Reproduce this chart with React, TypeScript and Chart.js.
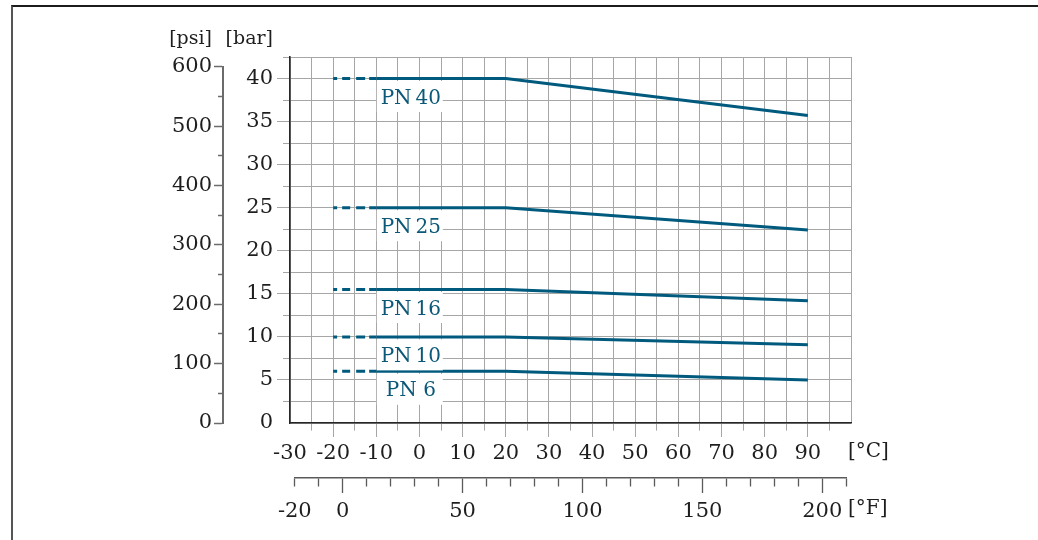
import React, { useEffect, useRef } from 'react';
import { Chart, registerables } from 'chart.js';

Chart.register(...registerables);

// Pressure/temperature curves for the flange classes (bar over °C)
const temperaturesC = [-20, -10, 20, 90];
const pn40 = [40, 40, 40, 35.7];
const pn25 = [25, 25, 25, 22.4];
const pn16 = [15.5, 15.5, 15.5, 14.2];
const pn10 = [10, 10, 10, 9.1];
const pn6 = [6, 6, 6, 5.0];
const seriesNames = ['PN\u200940', 'PN\u200925', 'PN\u200916', 'PN\u200910', 'PN 6'];

// Labelled tick values of each axis
const celsiusTicks = [-30, -20, -10, 0, 10, 20, 30, 40, 50, 60, 70, 80, 90];
const barTicks = [0, 5, 10, 15, 20, 25, 30, 35, 40];
const psiTicks = [0, 100, 200, 300, 400, 500, 600];
const fahrenheitTicks = [-20, 0, 50, 100, 150, 200];

const PSI_PER_BAR = 14.5038;
const FONT = "'DejaVu Serif', serif";
const LINE = '#005a7e';
const LABEL = '#0b5878';
const TEXT = '#1e1e1e';
const GRID = '#a6a6a6';
const CLEAR = 'rgba(0,0,0,0)';

const series = [pn40, pn25, pn16, pn10, pn6];
const labelAtC = -2;

const tickFont = { family: FONT, size: 21 };

const secondaryAxes = {
  id: 'secondaryAxes',
  afterLayout(chart: any) {
    const { x, y, psi, f } = chart.scales;
    // psi axis only runs up to its last tick
    psi.top = y.getPixelForValue(psi.max / PSI_PER_BAR);
    psi.height = psi.bottom - psi.top;
    psi.configure();
    psi._gridLineItems = null;
    psi._labelItems = null;
    // °F axis placed by conversion onto the °C axis
    f.left = x.getPixelForValue((f.min - 32) / 1.8);
    f.right = x.getPixelForValue((f.max - 32) / 1.8);
    f.width = f.right - f.left;
    f.configure();
    f._gridLineItems = null;
    f._labelItems = null;
  },
};

const annotations = {
  id: 'annotations',
  afterDatasetsDraw(chart: any) {
    const { ctx } = chart;
    const { x, y } = chart.scales;
    ctx.save();
    ctx.font = `20px ${FONT}`;
    ctx.textAlign = 'center';
    ctx.textBaseline = 'alphabetic';
    series.forEach((vals, i) => {
      const cx = x.getPixelForValue(labelAtC);
      const py = y.getPixelForValue(vals[2]);
      ctx.fillStyle = '#ffffff';
      ctx.fillRect(cx - 34, py + 2.5, 66, 31);
      ctx.fillStyle = LABEL;
      ctx.fillText(seriesNames[i], cx, py + 25);
    });
    ctx.restore();
  },
  afterDraw(chart: any) {
    const { ctx } = chart;
    const { x, y, psi, f } = chart.scales;
    ctx.save();
    ctx.font = `19px ${FONT}`;
    ctx.fillStyle = TEXT;
    ctx.textBaseline = 'middle';
    ctx.textAlign = 'right';
    ctx.fillText('[psi]', psi.right - 11, 39);
    ctx.fillText('[bar]', y.right - 17, 39);
    ctx.textAlign = 'left';
    ctx.font = `20px ${FONT}`;
    ctx.fillText('[°C]', x.right - 3, x.top + 29);
    ctx.fillText('[°F]', x.right - 3, f.top + 31);
    ctx.restore();
  },
};

function buildConfig(): any {
  return {
    type: 'line',
    data: {
      datasets: series.map((vals, i) => ({
        label: seriesNames[i],
        data: temperaturesC.map((t, j) => ({ x: t, y: vals[j] })),
        borderColor: LINE,
        borderWidth: 3,
        borderCapStyle: 'butt',
        borderJoinStyle: 'round',
        pointRadius: 0,
        tension: 0,
        fill: false,
        xAxisID: 'x',
        yAxisID: 'y',
        segment: {
          borderDash: (ctx: any) => (ctx.p0DataIndex === 0 ? [4, 5, 8, 6, 9, 4, 40] : undefined),
        },
      })),
    },
    options: {
      responsive: false,
      animation: false,
      devicePixelRatio: 1,
      layout: { padding: { top: 57, left: 150, right: 187, bottom: 12 } },
      plugins: {
        legend: { display: false },
        tooltip: { enabled: false },
        title: { display: false },
      },
      scales: {
        x: {
          type: 'linear',
          position: 'bottom',
          min: -30,
          max: 100,
          weight: 0,
          afterFit: (s: any) => { s.height = 55; },
          ticks: {
            stepSize: 5,
            autoSkip: false,
            maxRotation: 0,
            minRotation: 0,
            padding: 4,
            color: TEXT,
            font: tickFont,
            callback: (v: any) => (celsiusTicks.includes(v) ? String(v) : ''),
          },
          grid: {
            color: GRID,
            lineWidth: 1,
            tickLength: 14,
            tickColor: (c: any) => (c.tick && (c.tick.value === -30 || c.tick.value === 100) ? CLEAR : GRID),
            tickBorderDash: (c: any) => (c.tick && c.tick.value % 10 !== 0 ? [7, 30] : []),
          },
          border: { color: '#262626', width: 1.6 },
        },
        f: {
          type: 'linear',
          position: 'bottom',
          min: -20,
          max: 210,
          weight: 1,
          afterFit: (s: any) => { s.height = 50; },
          ticks: {
            stepSize: 10,
            autoSkip: false,
            maxRotation: 0,
            minRotation: 0,
            padding: 6,
            color: TEXT,
            font: tickFont,
            callback: (v: any) => (fahrenheitTicks.includes(v) ? String(v) : ''),
          },
          grid: {
            drawOnChartArea: false,
            color: '#5a5a5a',
            tickLength: 15,
            tickWidth: 1.3,
            tickBorderDash: (c: any) => (c.tick && c.tick.value % 50 !== 0 ? [8, 30] : []),
          },
          border: { color: '#5a5a5a', width: 1.5 },
        },
        y: {
          type: 'linear',
          position: 'left',
          min: 0,
          max: 42.5,
          weight: 0,
          afterFit: (s: any) => { s.width = 67; },
          ticks: {
            stepSize: 2.5,
            autoSkip: false,
            padding: 4,
            color: TEXT,
            font: tickFont,
            callback: (v: any) => (barTicks.includes(v) ? String(v) : ''),
          },
          grid: {
            color: GRID,
            lineWidth: 1,
            tickLength: 13,
            tickColor: (c: any) => (c.tick && c.tick.value === 0 ? CLEAR : GRID),
            tickBorderDash: (c: any) => (c.tick && c.tick.value % 5 !== 0 ? [0, 6, 30] : []),
          },
          border: { color: '#262626', width: 1.6 },
        },
        psi: {
          type: 'linear',
          position: 'left',
          min: 0,
          max: 600,
          weight: 1,
          afterFit: (s: any) => { s.width = 73; },
          ticks: {
            stepSize: 50,
            autoSkip: false,
            padding: 2,
            color: TEXT,
            font: tickFont,
            callback: (v: any) => (psiTicks.includes(v) ? String(v) : ''),
          },
          grid: {
            drawOnChartArea: false,
            color: '#6b6b6b',
            tickLength: 9,
            tickWidth: 1.5,
            tickBorderDash: (c: any) => (c.tick && c.tick.value % 100 !== 0 ? [0, 4, 30] : []),
          },
          border: { color: '#6b6b6b', width: 2 },
        },
      },
    },
    plugins: [secondaryAxes, annotations],
  };
}

export default function App() {
  const canvasRef = useRef<HTMLCanvasElement>(null);

  useEffect(() => {
    document.body.style.margin = '0';
    const chart = new Chart(canvasRef.current as HTMLCanvasElement, buildConfig());
    return () => chart.destroy();
  }, []);

  return (
    <div style={{ position: 'relative', width: 1038, height: 540, background: '#ffffff', overflow: 'hidden' }}>
      <canvas
        ref={canvasRef}
        width={1038}
        height={540}
        style={{ position: 'absolute', left: 0, top: 0, width: 1038, height: 540 }}
      />
      <div
        style={{
          position: 'absolute',
          left: 11,
          top: 5,
          right: 0,
          bottom: 0,
          borderTop: '2px solid #1c1c1c',
          borderLeft: '2px solid #555555',
          pointerEvents: 'none',
        }}
      />
    </div>
  );
}
